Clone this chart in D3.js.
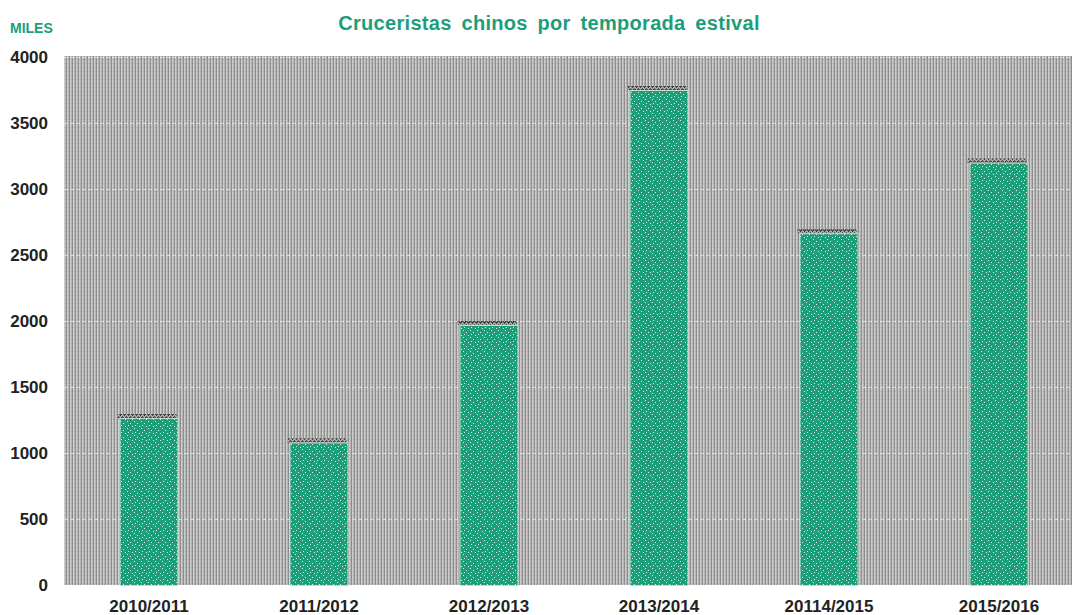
<!DOCTYPE html>
<html>
<head>
<meta charset="utf-8">
<script src="https://cdn.jsdelivr.net/npm/d3@7"></script>
<style>
html,body{margin:0;padding:0;background:#fff;}
svg{display:block;}
text{font-family:"Liberation Sans",Arial,sans-serif;font-weight:bold;}
</style>
</head>
<body>
<svg id="chart" width="1072" height="615"></svg>
<script>
const categories = ["2010/2011","2011/2012","2012/2013","2013/2014","20114/2015","2015/2016"];
const values = [1265, 1080, 1970, 3750, 2665, 3200];
const yTicks = [0,500,1000,1500,2000,2500,3000,3500,4000];
const title = "Cruceristas chinos por temporada estival";
const unitLabel = "MILES";

(function(){
const svg = d3.select("#chart");
const W = 1072, H = 615;
const mLeft = 64, mTop = 56, mBottom = 585;
const step = 170;

const defs = svg.append("defs");
const bg = defs.append("pattern").attr("id","bgpat").attr("width",3).attr("height",4).attr("patternUnits","userSpaceOnUse");
bg.append("rect").attr("width",3).attr("height",4).attr("fill","#d2d2d2");
bg.append("rect").attr("x",0).attr("width",1).attr("height",4).attr("fill","#8e8e8e");
bg.append("rect").attr("x",2).attr("width",1).attr("height",4).attr("fill","#b4b4b4");
bg.append("rect").attr("x",1).attr("y",3).attr("width",1).attr("height",1).attr("fill","#b8b8b8");

const bp = defs.append("pattern").attr("id","barpat").attr("width",7).attr("height",7).attr("patternUnits","userSpaceOnUse");
bp.append("rect").attr("width",7).attr("height",7).attr("fill","#1b9e79");
[[1,1],[4,3],[2,5],[6,6]].forEach(([px,py])=>bp.append("rect").attr("x",px).attr("y",py).attr("width",1).attr("height",1).attr("fill","#d8f0e6"));

const sp = defs.append("pattern").attr("id","shpat").attr("width",4).attr("height",4).attr("patternUnits","userSpaceOnUse");
sp.append("rect").attr("width",4).attr("height",4).attr("fill","#a8a8a8");
sp.append("rect").attr("x",0).attr("y",2).attr("width",1).attr("height",2).attr("fill","#3c3c3c");
sp.append("rect").attr("x",1).attr("y",1).attr("width",1).attr("height",2).attr("fill","#3c3c3c");
sp.append("rect").attr("x",2).attr("y",0).attr("width",1).attr("height",2).attr("fill","#555");
sp.append("rect").attr("x",3).attr("y",1).attr("width",1).attr("height",2).attr("fill","#555");

const x = d3.scaleBand().domain(categories).range([mLeft, mLeft + step*categories.length])
  .paddingInner(0.653).paddingOuter(0.3265);
const y = d3.scaleLinear().domain([0,4000]).range([mBottom, mTop+1]);

svg.append("rect").attr("x",mLeft).attr("y",mTop).attr("width",W-mLeft).attr("height",mBottom-mTop).attr("fill","url(#bgpat)");

svg.append("g").selectAll("line").data(yTicks.filter(d=>d>0)).join("line")
  .attr("x1",mLeft).attr("x2",W).attr("y1",d=>Math.round(y(d))+0.5).attr("y2",d=>Math.round(y(d))+0.5)
  .attr("stroke","#dadada").attr("stroke-width",1).attr("stroke-dasharray","4,2");

svg.append("g").selectAll("rect").data(values).join("rect")
  .attr("x",(d,i)=>x(categories[i])-2)
  .attr("y",d=>y(d)-4)
  .attr("width",x.bandwidth())
  .attr("height",4)
  .attr("fill","url(#shpat)");

svg.append("g").selectAll("rect").data(values).join("rect")
  .attr("x",(d,i)=>x(categories[i])+0.5)
  .attr("y",d=>y(d)+0.5)
  .attr("width",x.bandwidth()-1)
  .attr("height",d=>mBottom - y(d))
  .attr("fill","url(#barpat)")
  .attr("stroke","#c9dcd3").attr("stroke-width",1);

const yAxis = d3.axisLeft(y).tickValues(yTicks).tickFormat(d3.format("d")).tickSize(0).tickPadding(0);
const ya = svg.append("g").attr("transform",`translate(${mLeft-16},0)`).call(yAxis);
ya.select(".domain").remove();
ya.selectAll("text").attr("font-size",17).attr("fill","#222").attr("font-family","'Liberation Sans',Arial,sans-serif").attr("font-weight","bold").attr("dy","0.32em");

const xAxis = d3.axisBottom(x).tickSize(0).tickPadding(0);
const xa = svg.append("g").attr("transform",`translate(0,${mBottom})`).call(xAxis);
xa.select(".domain").remove();
xa.selectAll("text").attr("font-size",17).attr("fill","#222").attr("font-family","'Liberation Sans',Arial,sans-serif").attr("font-weight","bold").attr("dy",null).attr("y",27);

svg.append("text").attr("x",549).attr("y",30).attr("text-anchor","middle")
  .attr("font-size",20).attr("fill","#1b9e79").attr("letter-spacing","0.3px").attr("word-spacing","4px").text(title);
svg.append("text").attr("x",10).attr("y",33).attr("font-size",14).attr("fill","#1b9e79").text(unitLabel);
})();
</script>
</body>
</html>
